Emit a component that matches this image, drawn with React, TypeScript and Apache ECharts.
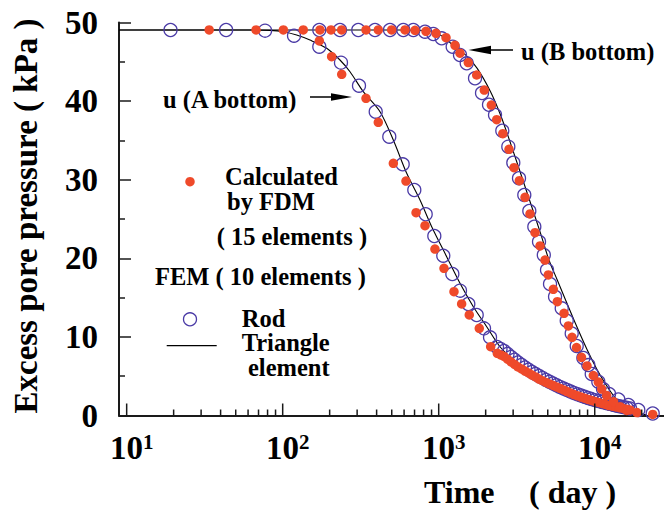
import React, { useEffect, useRef } from "react";
import * as echarts from "echarts";

const FONT = "'Liberation Serif','Times New Roman',Times,serif";

// Time (day) / excess pore pressure (kPa) pairs
const fdmA: number[][] = [
  [33.8, 49.05], [67.5, 49.05], [101, 49.05], [135.5, 49.05],
  [171.7, 47.65], [206, 45.65], [239, 43.41], [342, 40.36], [410, 37.3],
  [512, 32.09], [617, 29.83], [716, 25.8], [817, 24.15], [946, 21.18],
  [1081, 18.73], [1253, 15.75], [1403, 14.19], [1570, 12.79], [1820, 11.09],
  [2153, 8.75], [2375, 7.91], [2496, 7.71], [2622, 7.51], [2761, 7.16],
  [2908, 6.81], [3062, 6.49], [3224, 6.17], [3395, 5.92], [3575, 5.66],
  [3764, 5.41], [3964, 5.15], [4174, 4.9], [4395, 4.64], [4628, 4.42],
  [4874, 4.2], [5132, 4.01], [5404, 3.82], [5691, 3.63], [5993, 3.44],
  [6311, 3.25], [6645, 3.05], [6997, 2.86], [7368, 2.67], [7759, 2.51],
  [8170, 2.35], [8604, 2.2], [9060, 2.04], [9540, 1.91], [10045, 1.78],
  [10578, 1.66], [11140, 1.53], [11730, 1.4], [12352, 1.27], [13006, 1.18],
  [13695, 1.08], [14422, 0.99], [15187, 0.89], [15991, 0.8], [16838, 0.7],
];

const fdmB: number[][] = [
  [173.4, 49.05], [204, 49.05], [238.9, 49.05], [342, 49.05], [410.2, 49.05],
  [499.5, 49.05], [608.1, 49.05], [704.9, 49.0], [828.9, 48.88], [960.9, 48.63],
  [1114, 48.07], [1272, 47.1], [1369, 46.1], [1548, 44.9], [1752, 43.32],
  [1960, 41.41], [2174, 39.5], [2354, 37.63], [2576, 35.85], [2822, 33.87],
  [3039, 31.53], [3287, 29.87], [3575, 27.76], [3848, 25.64], [4144, 23.26],
  [4461, 21.57], [4802, 19.78], [5042, 17.88], [5428, 16.06], [5758, 14.48],
  [6357, 13.0], [6774, 11.39], [7154, 9.95], [7644, 8.65], [8230, 7.4],
  [8925, 6.3], [9795, 5.09], [10545, 4.26], [11088, 3.37], [11939, 2.54],
  [13198, 1.76], [14528, 1.12], [16040, 0.64], [18666, 0.38], [23535, 0.13],
];

const rodA: number[][] = [
  [19.1, 49.05], [43.4, 49.05], [77.1, 48.96], [118.2, 48.32], [171.7, 46.92],
  [236.4, 44.89], [308.4, 41.96], [394.7, 38.65], [482.3, 35.47], [587.7, 31.96],
  [697.6, 28.69], [825.3, 25.6], [937.3, 22.84], [1070, 20.33], [1223, 18.0],
  [1369, 15.88], [1548, 14.19], [1752, 12.79], [1952, 11.09], [2133, 9.95],
  [2364, 8.72], [2490, 8.47], [2622, 8.21], [2761, 7.83], [2908, 7.44],
  [3062, 7.09], [3224, 6.74], [3395, 6.43], [3575, 6.11], [3764, 5.82],
  [3964, 5.53], [4174, 5.28], [4395, 5.03], [4628, 4.78], [4874, 4.52],
  [5132, 4.3], [5404, 4.07], [5691, 3.85], [5993, 3.63], [6311, 3.44],
  [6645, 3.24], [6997, 3.05], [7368, 2.86], [7759, 2.71], [8170, 2.55],
  [8604, 2.39], [9060, 2.23], [9540, 2.09], [10045, 1.95], [10578, 1.84],
  [11140, 1.72], [11730, 1.6], [12352, 1.48], [13006, 1.38], [13695, 1.27],
  [14422, 1.18], [15187, 1.08], [15991, 0.99], [16838, 0.89],
];

const rodB: number[][] = [
  [171.7, 49.05], [232.9, 49.05], [305.2, 49.05], [390.6, 49.05], [487.3, 49.05],
  [593.1, 49.05], [687.6, 49.05], [817, 48.83], [923.7, 48.54], [1045, 47.99],
  [1229, 46.92], [1369, 45.87], [1512, 44.81], [1709, 42.9], [1895, 41.03],
  [2101, 39.54], [2296, 38.23], [2557, 36.23], [2794, 34.2], [3007, 32.16],
  [3271, 30.18], [3537, 28.05], [3809, 26.02], [4101, 24.02], [4395, 22.11],
  [4717, 20.42], [4945, 18.51], [5170, 16.73], [5567, 15.11], [6144, 13.64],
  [6615, 12.06], [7121, 10.43], [7667, 8.84], [8455, 7.32], [9100, 6.42],
  [9568, 5.28], [10545, 4.3], [11304, 3.37], [12352, 2.74], [14169, 2.04],
  [16424, 1.34], [19026, 0.7], [23535, 0.25],
];

const triA: number[][] = [
  [8.93, 49.05], [61.7, 49.05], [82.9, 49.0], [100.9, 48.83], [122.9, 48.41],
  [149.6, 47.77], [191.5, 46.72], [232.9, 45.23], [270.1, 43.74], [328.6, 41.2],
  [420.6, 38.65], [511.7, 35.05], [623.6, 30.81], [758.8, 27.42], [901.8, 24.02],
  [1125, 20.2], [1369, 16.82], [1667, 13.84], [2031, 11.3], [2472, 8.75],
  [3162, 6.64], [4248, 4.52], [5993, 2.9], [8886, 1.45], [13161, 0.55],
  [17680, 0.1],
];

const triB: number[][] = [
  [8.93, 49.05], [564.8, 49.05], [879.6, 48.92], [1098, 48.03], [1253, 46.95],
  [1486, 45.87], [1765, 44.17], [2149, 41.2], [2491, 38.23], [2887, 34.63],
  [3694, 28.27], [4496, 23.18], [5090, 19.78], [5753, 17.24], [7360, 12.15],
  [8958, 8.33], [10381, 5.79], [12036, 3.66], [13947, 1.97], [17000, 0.7],
  [21544, 0.06],
];

const xMajorTicks = [10, 100, 1000, 10000];
const xMinorTicks = [
  20, 30, 40, 50, 60, 70, 80, 90,
  200, 300, 400, 500, 600, 700, 800, 900,
  2000, 3000, 4000, 5000, 6000, 7000, 8000, 9000,
  20000,
];

const RED = "#ef4a2a";
const BLUE = "#4b3ba6";
const AXIS = "#1a1a1a";

function tickSeries(values: number[], len: number) {
  return {
    type: "custom",
    silent: true,
    clip: false,
    z: 5,
    data: values.map((v) => [v, 0]),
    renderItem: (_params: any, api: any) => {
      const p = api.coord([api.value(0), 0]);
      return {
        type: "line",
        shape: { x1: p[0], y1: p[1], x2: p[0], y2: p[1] - len },
        style: { stroke: AXIS, lineWidth: 1.5 },
      };
    },
  };
}

function label(text: string, x: number, y: number, size = 24.5) {
  return {
    type: "text",
    x,
    y,
    style: {
      text,
      fontFamily: FONT,
      fontWeight: "bold",
      fontSize: size,
      fill: "#000",
      align: "left",
      verticalAlign: "middle",
    },
  };
}

export default function App() {
  const ref = useRef<HTMLDivElement>(null);

  useEffect(() => {
    if (!ref.current) return;
    const chart = echarts.init(ref.current, undefined, { renderer: "svg" });

    const rodStyle = {
      color: "rgba(255,255,255,0)",
      borderColor: BLUE,
      borderWidth: 1.3,
      opacity: 1,
    };
    const fdmStyle = { color: RED, opacity: 1 };

    chart.setOption({
      animation: false,
      backgroundColor: "#fff",
      grid: { left: 119, right: 0, top: 22.5, bottom: 97.5, containLabel: false },
      xAxis: {
        type: "log",
        logBase: 10,
        min: 8.93,
        max: 27800,
        axisLine: { show: true, onZero: false, lineStyle: { color: AXIS, width: 2 } },
        axisTick: { show: false },
        splitLine: { show: false },
        axisLabel: {
          margin: 16,
          padding: [0, 0, 0, 10],
          showMinLabel: false,
          showMaxLabel: false,
          formatter: (v: number) => {
            const e = Math.log10(v);
            const r = Math.round(e);
            if (Math.abs(e - r) > 1e-6) return "";
            return `{b|10}{s|${r}}`;
          },
          rich: {
            b: { fontFamily: FONT, fontWeight: "bold", fontSize: 33, color: "#000" },
            s: {
              fontFamily: FONT,
              fontWeight: "bold",
              fontSize: 21,
              color: "#000",
              verticalAlign: "top",
              lineHeight: 18,
            },
          },
        },
      },
      yAxis: {
        type: "value",
        min: 0,
        max: 50,
        interval: 10,
        axisLine: { show: true, lineStyle: { color: AXIS, width: 2 } },
        axisTick: { show: true, inside: true, length: 12, lineStyle: { color: AXIS, width: 1.5 } },
        minorTick: { show: true, splitNumber: 2, length: 6, lineStyle: { color: AXIS, width: 1.5 } },
        splitLine: { show: false },
        axisLabel: {
          margin: 21,
          fontFamily: FONT,
          fontWeight: "bold",
          fontSize: 33,
          color: "#000",
        },
      },
      series: [
        tickSeries(xMajorTicks, 12),
        tickSeries(xMinorTicks, 6),
        {
          type: "line",
          data: triA,
          showSymbol: false,
          smooth: 0.3,
          z: 1,
          lineStyle: { color: "#000", width: 1.1 },
        },
        {
          type: "line",
          data: triB,
          showSymbol: false,
          smooth: 0.3,
          z: 1,
          lineStyle: { color: "#000", width: 1.1 },
        },
        { type: "scatter", data: rodA, symbol: "circle", symbolSize: 13, z: 2, itemStyle: rodStyle },
        { type: "scatter", data: rodB, symbol: "circle", symbolSize: 13, z: 2, itemStyle: rodStyle },
        { type: "scatter", data: fdmA, symbol: "circle", symbolSize: 9.5, z: 3, itemStyle: fdmStyle },
        { type: "scatter", data: fdmB, symbol: "circle", symbolSize: 9.5, z: 3, itemStyle: fdmStyle },
      ],
      graphic: [
        // axis titles
        {
          type: "text",
          x: 26,
          y: 216,
          rotation: Math.PI / 2,
          style: {
            text: "Excess pore pressure ( kPa )",
            fontFamily: FONT,
            fontWeight: "bold",
            fontSize: 33,
            fill: "#000",
            align: "center",
            verticalAlign: "middle",
          },
        },
        label("Time", 424, 492, 32),
        label("( day )", 529, 492, 32),
        // curve annotations
        label("u (A bottom)", 163, 99.5),
        { type: "line", shape: { x1: 310, y1: 97, x2: 334, y2: 97 }, style: { stroke: "#000", lineWidth: 1.5 } },
        { type: "polygon", shape: { points: [[331, 93.3], [352, 97], [331, 100.7]] }, style: { fill: "#000" } },
        label("u (B bottom)", 521, 51),
        { type: "line", shape: { x1: 489, y1: 50, x2: 513, y2: 50 }, style: { stroke: "#000", lineWidth: 1.5 } },
        { type: "polygon", shape: { points: [[491, 45.8], [468.5, 50], [491, 54.2]] }, style: { fill: "#000" } },
        // legend
        { type: "circle", shape: { cx: 190, cy: 181.7, r: 4.75 }, style: { fill: RED } },
        label("Calculated", 225, 176.7),
        label("by FDM", 227, 201),
        label("( 15 elements )", 216.7, 236.5),
        label("FEM ( 10 elements )", 155, 276),
        { type: "circle", shape: { cx: 190, cy: 319.3, r: 6.5 }, style: { fill: "none", stroke: BLUE, lineWidth: 1.3 } },
        label("Rod", 241.7, 318),
        { type: "line", shape: { x1: 166.7, y1: 345.7, x2: 216.7, y2: 345.7 }, style: { stroke: "#000", lineWidth: 1.2 } },
        label("Triangle", 241.7, 342.5),
        label("element", 248, 367),
      ],
    });

    return () => chart.dispose();
  }, []);

  return (
    <div
      ref={ref}
      style={{ position: "fixed", left: 0, top: 0, width: 664, height: 513, background: "#fff" }}
    />
  );
}
